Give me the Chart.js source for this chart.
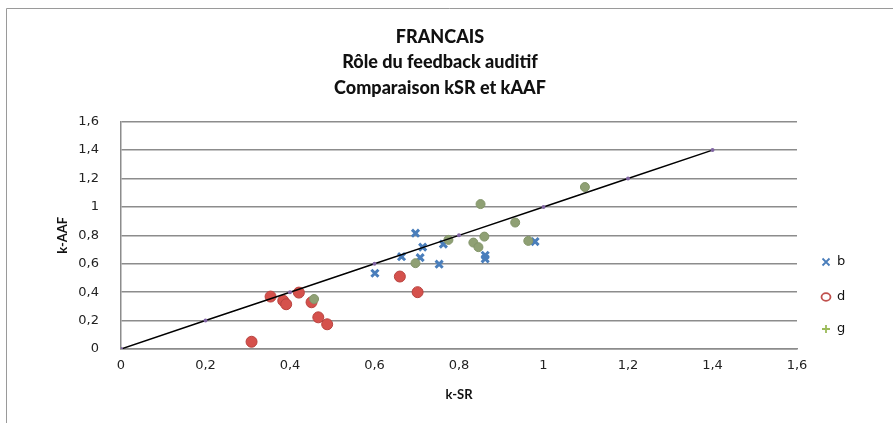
<!DOCTYPE html>
<html lang="fr">
<head>
    <meta charset="UTF-8">
    <title>FRANCAIS - Rôle du feedback auditif</title>
    <script src="https://cdn.jsdelivr.net/npm/chart.js"></script>
    <style>
        body { margin: 0; background: #fff; }
        canvas { display: block; }
    </style>
</head>
<body>
    <canvas id="chart" width="893" height="423"></canvas>

    <script>
        // Values (x = k-SR, y = k-AAF)
        const seriesNames = ['b', 'd', 'g'];

        const bX = [0.601, 0.664, 0.697, 0.708, 0.714, 0.753, 0.763, 0.862, 0.862, 0.980];
        const bY = [0.533, 0.650, 0.815, 0.643, 0.717, 0.597, 0.738, 0.660, 0.635, 0.756];

        const dX = [0.309, 0.354, 0.384, 0.391, 0.421, 0.451, 0.467, 0.488, 0.660, 0.702];
        const dY = [0.051, 0.369, 0.340, 0.315, 0.397, 0.329, 0.223, 0.174, 0.510, 0.400];

        const gX = [0.457, 0.697, 0.775, 0.834, 0.846, 0.851, 0.860, 0.933, 0.964, 1.098];
        const gY = [0.352, 0.604, 0.768, 0.749, 0.717, 1.020, 0.791, 0.890, 0.761, 1.140];

        // reference diagonal y = x
        const refX = [0, 0.2, 0.4, 0.6, 0.8, 1.0, 1.2, 1.4];
        const refY = [0, 0.2, 0.4, 0.6, 0.8, 1.0, 1.2, 1.4];

        const titleLines = ['FRANCAIS', 'Rôle du feedback auditif', 'Comparaison kSR et kAAF'];

        function toPoints(xs, ys) {
            return xs.map((x, i) => ({ x: x, y: ys[i] }));
        }

        function fmt(v) {
            return String(+v.toFixed(1)).replace('.', ',');
        }

        const legendStyles = [
            { kind: 'x', color: '#4a7ebb' },
            { kind: 'o', color: '#c0504d' },
            { kind: '+', color: '#9bbb59' }
        ];

        // Frame round the chart, like the spreadsheet object border
        const framePlugin = {
            id: 'frame',
            beforeDraw(chart) {
                const ctx = chart.ctx;
                ctx.save();
                ctx.strokeStyle = '#9a9a9a';
                ctx.lineWidth = 1;
                ctx.beginPath();
                ctx.moveTo(6.5, 423);
                ctx.lineTo(6.5, 8.5);
                ctx.lineTo(893, 8.5);
                ctx.stroke();
                ctx.restore();
            }
        };

        // Legend on the right, drawn by hand so the markers can differ from the plot
        const sideLegend = {
            id: 'sideLegend',
            afterDraw(chart) {
                const ctx = chart.ctx;
                const rows = [262, 297, 329];
                ctx.save();
                ctx.font = '13px "DejaVu Sans"';
                ctx.textBaseline = 'middle';
                seriesNames.forEach((name, i) => {
                    const st = legendStyles[i];
                    const x = 826, y = rows[i];
                    ctx.strokeStyle = st.color;
                    ctx.lineWidth = 1.8;
                    ctx.beginPath();
                    if (st.kind === 'x') {
                        ctx.moveTo(x - 3.5, y - 3.5); ctx.lineTo(x + 3.5, y + 3.5);
                        ctx.moveTo(x + 3.5, y - 3.5); ctx.lineTo(x - 3.5, y + 3.5);
                    } else if (st.kind === 'o') {
                        ctx.ellipse(x, y, 4.5, 3.8, 0, 0, Math.PI * 2);
                    } else {
                        ctx.moveTo(x - 4, y); ctx.lineTo(x + 4, y);
                        ctx.moveTo(x, y - 4); ctx.lineTo(x, y + 4);
                    }
                    ctx.stroke();
                    ctx.fillStyle = '#111';
                    ctx.fillText(name, 837, y);
                });
                ctx.restore();
            }
        };

        const ctx = document.getElementById('chart').getContext('2d');
        new Chart(ctx, {
            type: 'scatter',
            data: {
                datasets: [
                    {
                        label: seriesNames[0],
                        data: toPoints(bX, bY),
                        pointStyle: 'crossRot',
                        pointRadius: 5,
                        borderWidth: 3,
                        borderColor: '#4a7ebb',
                        backgroundColor: '#4a7ebb',
                        order: 4
                    },
                    {
                        label: seriesNames[1],
                        data: toPoints(dX, dY),
                        pointStyle: 'circle',
                        pointRadius: 5.5,
                        borderWidth: 1,
                        borderColor: '#b8433f',
                        backgroundColor: '#d5514c',
                        order: 3
                    },
                    {
                        label: seriesNames[2],
                        data: toPoints(gX, gY),
                        pointStyle: 'circle',
                        pointRadius: 4.5,
                        borderWidth: 1,
                        borderColor: '#83956a',
                        backgroundColor: '#8fa074',
                        order: 2
                    },
                    {
                        label: 'y = x',
                        type: 'line',
                        data: toPoints(refX, refY),
                        showLine: true,
                        borderColor: '#000',
                        borderWidth: 1.5,
                        pointRadius: 2,
                        pointBorderWidth: 0,
                        pointBackgroundColor: '#8064a2',
                        fill: false,
                        order: 1
                    }
                ]
            },
            options: {
                responsive: false,
                animation: false,
                layout: {
                    padding: { left: 0, right: 13, top: 0, bottom: 0 }
                },
                plugins: {
                    legend: { display: false },
                    tooltip: { enabled: false },
                    title: {
                        display: true,
                        text: titleLines,
                        color: '#111',
                        font: { family: 'Lato', size: 18, weight: 900, lineHeight: 1.42 },
                        padding: { top: 24, bottom: 21 }
                    }
                },
                scales: {
                    x: {
                        type: 'linear',
                        min: 0,
                        max: 1.6,
                        ticks: {
                            stepSize: 0.2,
                            padding: 9,
                            color: '#222',
                            font: { family: 'DejaVu Sans', size: 13 },
                            callback: fmt
                        },
                        grid: { drawOnChartArea: false, drawTicks: false },
                        border: { color: '#8c8c8c', width: 1.5 },
                        title: {
                            display: true,
                            text: 'k-SR',
                            color: '#111',
                            font: { family: 'Lato', size: 13, weight: 'bold' },
                            padding: { top: 0, bottom: 20 }
                        },
                        afterFit(scale) { scale.height = 74; }
                    },
                    y: {
                        type: 'linear',
                        min: 0,
                        max: 1.6,
                        ticks: {
                            stepSize: 0.2,
                            padding: 22,
                            color: '#222',
                            font: { family: 'DejaVu Sans', size: 13 },
                            callback: fmt
                        },
                        grid: { color: '#8c8c8c', lineWidth: 1.5, drawTicks: false },
                        border: { color: '#8c8c8c', width: 1.5 },
                        title: {
                            display: true,
                            text: 'k-AAF',
                            color: '#111',
                            font: { family: 'Lato', size: 13, weight: 'bold' },
                            padding: { top: 55, bottom: 0 }
                        },
                        afterFit(scale) { scale.width = 121; }
                    },
                    // empty box on the right that leaves room for the legend
                    legendSpace: {
                        type: 'linear',
                        position: 'right',
                        min: 0,
                        max: 1.6,
                        ticks: { display: false },
                        grid: { display: false, drawTicks: false },
                        border: { display: false },
                        afterFit(scale) { scale.width = 83; }
                    }
                }
            },
            plugins: [framePlugin, sideLegend]
        });
    </script>
</body>
</html>
